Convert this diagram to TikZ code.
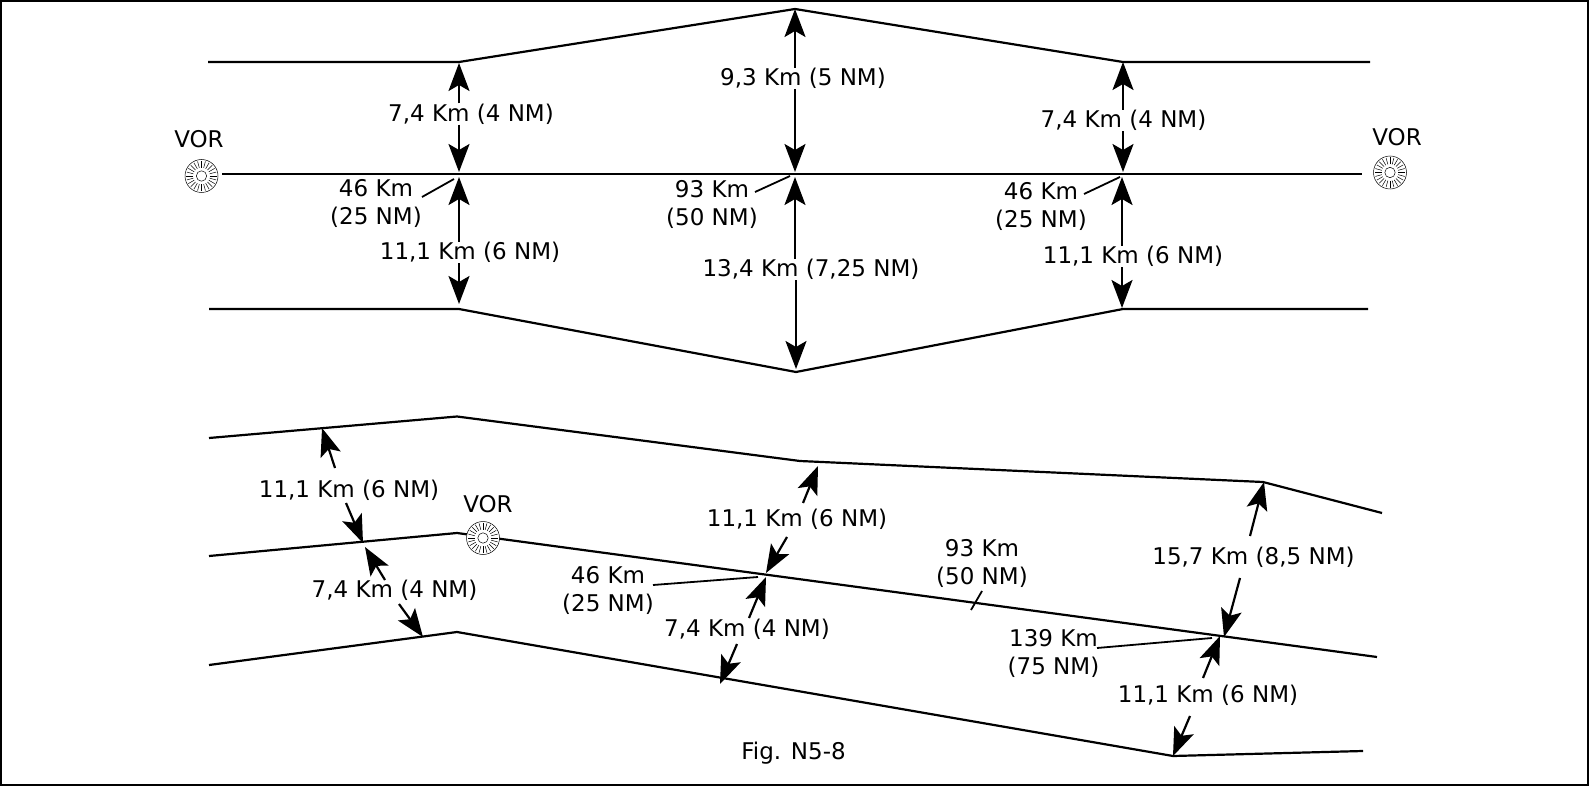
\documentclass[tikz,border=0pt]{standalone}
\usepackage{fontspec}
\setmainfont{DejaVu Sans}
\usetikzlibrary{arrows.meta}
\tikzset{
    routeline/.style = {line width = 1.1pt},
    dimarrow/.style = {line width = 1.1pt, -{Stealth[length = 14pt, width = 10.5pt, inset = 3pt]}},
    leaderline/.style = {line width = 0.9pt},
    dimlabel/.style = {font = \fontsize{11.5}{14}\selectfont, inner sep = 0pt, align = center, yshift = -1.2pt},
    vorbeacon/.style = {circle, draw, fill = white, line width = 0.25pt, minimum size = 16.5pt, inner sep = 0pt,
        path picture = {
            \draw [line width = 0.25pt] (path picture bounding box.center) circle (2.6pt);
            \foreach \a in {0, 15, ..., 345}
                \draw [line width = 0.25pt] ([shift = {(\a:4.2pt)}]path picture bounding box.center) -- ([shift = {(\a:7.6pt)}]path picture bounding box.center);
        }},
}

\begin{document}
\begin{tikzpicture}[x = 0.5pt, y = -0.5pt]
        \useasboundingbox (0, 0) rectangle (1589, 786);
        \node [draw, line width = 1pt, minimum width = 793.5pt, minimum height = 392pt, inner sep = 0pt] (frame) at (794.5, 393) {};

        % Upper corridor
        \coordinate (ua) at (208, 62);
        \coordinate (ub) at (459, 62);
        \coordinate (uc) at (795, 9);
        \coordinate (ud) at (1123, 62);
        \coordinate (ue) at (1370, 62);
        \coordinate (ma) at (222, 174);
        \coordinate (mb) at (1362, 174);
        \coordinate (la) at (209, 309);
        \coordinate (lb) at (459, 309);
        \coordinate (lc) at (796, 372);
        \coordinate (ld) at (1123, 309);
        \coordinate (le) at (1368, 309);
        \draw [routeline] (ua) -- (ub) -- (uc) -- (ud) -- (ue);
        \draw [routeline] (ma) -- (mb);
        \draw [routeline] (la) -- (lb) -- (lc) -- (ld) -- (le);

        % Lower corridor
        \coordinate (pa) at (209, 438);
        \coordinate (pb) at (457, 416.5);
        \coordinate (pc) at (800, 461);
        \coordinate (pd) at (1263, 482);
        \coordinate (pe) at (1382, 513);
        \coordinate (qa) at (209, 556);
        \coordinate (qb) at (457, 533);
        \coordinate (qc) at (1377, 657);
        \coordinate (ra) at (209, 665);
        \coordinate (rb) at (457, 632);
        \coordinate (rc) at (1173, 756);
        \coordinate (rd) at (1363, 751);
        \draw [routeline] (pa) -- (pb) -- (pc) -- (pd) -- (pe);
        \draw [routeline] (qa) -- (qb) -- (qc);
        \draw [routeline] (ra) -- (rb) -- (rc) -- (rd);

        % Nodes
        \node [vorbeacon] (vora) at (201.5, 176) {};
        \node [vorbeacon] (vorb) at (1390, 172.5) {};
        \node [vorbeacon] (vorc) at (483, 538) {};
        \node [dimlabel] (vorat) at (199, 137) {VOR};
        \node [dimlabel] (vorbt) at (1397, 135) {VOR};
        \node [dimlabel] (vorct) at (488, 502) {VOR};

        \node [dimlabel] (uaw) at (471, 111.5) {7,4 Km (4 NM)};
        \node [dimlabel] (ubw) at (803, 76) {9,3 Km (5 NM)};
        \node [dimlabel] (ucw) at (1123.5, 118) {7,4 Km (4 NM)};
        \node [dimlabel] (law) at (470, 250) {11,1 Km (6 NM)};
        \node [dimlabel] (lbw) at (811, 267) {13,4 Km (7,25 NM)};
        \node [dimlabel] (lcw) at (1133, 254) {11,1 Km (6 NM)};
        \node [dimlabel] (dista) at (376, 201) {46 Km\\(25 NM)};
        \node [dimlabel] (distb) at (712, 202.5) {93 Km\\(50 NM)};
        \node [dimlabel] (distc) at (1041, 204) {46 Km\\(25 NM)};

        \node [dimlabel] (paw) at (349, 487.5) {11,1 Km (6 NM)};
        \node [dimlabel] (qaw) at (394.5, 588) {7,4 Km (4 NM)};
        \node [dimlabel] (pbw) at (797, 517) {11,1 Km (6 NM)};
        \node [dimlabel] (qbw) at (747, 627) {7,4 Km (4 NM)};
        \node [dimlabel] (pcw) at (1253.5, 555) {15,7 Km (8,5 NM)};
        \node [dimlabel] (qcw) at (1208, 693) {11,1 Km (6 NM)};
        \node [dimlabel] (distd) at (608, 588.5) {46 Km\\(25 NM)};
        \node [dimlabel] (diste) at (982, 561.5) {93 Km\\(50 NM)};
        \node [dimlabel] (distf) at (1053.5, 651) {139 Km\\(75 NM)};
        \node [dimlabel] (figlabel) at (793.5, 751) {Fig. N5-8};

        % Draw the links, upper corridor
        \coordinate (ta) at (459, 63);
        \coordinate (tb) at (459, 172);
        \coordinate (tc) at (459, 177);
        \coordinate (td) at (459, 304);
        \coordinate (te) at (795, 9);
        \coordinate (tf) at (795, 172);
        \coordinate (tg) at (795, 177);
        \coordinate (th) at (796, 369);
        \coordinate (ti) at (1123, 62);
        \coordinate (tj) at (1123, 172);
        \coordinate (tk) at (1122, 177);
        \coordinate (tl) at (1122, 308);
        \draw [dimarrow] (ta |- uaw.north) -- (ta);
        \draw [dimarrow] (tb |- uaw.south) -- (tb);
        \draw [dimarrow] (tc |- law.north) -- (tc);
        \draw [dimarrow] (td |- law.south) -- (td);
        \draw [dimarrow] (te |- ubw.north) -- (te);
        \draw [dimarrow] (tf |- ubw.south) -- (tf);
        \draw [dimarrow] (tg |- lbw.north) -- (tg);
        \draw [dimarrow] (th |- lbw.south) -- (th);
        \draw [dimarrow] (ti |- ucw.north) -- (ti);
        \draw [dimarrow] (tj |- ucw.south) -- (tj);
        \draw [dimarrow] (tk |- lcw.north) -- (tk);
        \draw [dimarrow] (tl |- lcw.south) -- (tl);

        % Draw the links, lower corridor
        \draw [dimarrow] (335, 468) coordinate (sa) -- (322, 428) coordinate (sb);
        \draw [dimarrow] (346, 503) coordinate (sc) -- (363, 543) coordinate (sd);
        \draw [dimarrow] (385, 580) coordinate (se) -- (365, 547) coordinate (sf);
        \draw [dimarrow] (399, 604) coordinate (sg) -- (423, 637) coordinate (sh);
        \draw [dimarrow] (803, 503) coordinate (si) -- (818, 466) coordinate (sj);
        \draw [dimarrow] (787, 537) coordinate (sk) -- (766, 573) coordinate (sl);
        \draw [dimarrow] (749, 618) coordinate (sm) -- (766, 577) coordinate (sn);
        \draw [dimarrow] (737, 644) coordinate (so) -- (720, 684) coordinate (sp);
        \draw [dimarrow] (1250, 536) coordinate (sq) -- (1264, 482) coordinate (sr);
        \draw [dimarrow] (1240, 578) coordinate (ss) -- (1224, 637) coordinate (st);
        \draw [dimarrow] (1203, 678) coordinate (su) -- (1220, 636) coordinate (sv);
        \draw [dimarrow] (1190, 716) coordinate (sw) -- (1173, 756) coordinate (sx);

        % Leaders to the distance labels
        \coordinate (ka) at (422, 197);
        \coordinate (kb) at (454, 179);
        \coordinate (kc) at (755, 192);
        \coordinate (kd) at (790, 176);
        \coordinate (ke) at (1084, 194);
        \coordinate (kf) at (1120, 177);
        \coordinate (kg) at (653, 585);
        \coordinate (kh) at (758, 577);
        \coordinate (ki) at (982, 591);
        \coordinate (kj) at (971, 610);
        \coordinate (kk) at (1097, 648);
        \coordinate (kl) at (1212, 638);
        \draw [leaderline] (ka) -- (kb);
        \draw [leaderline] (kc) -- (kd);
        \draw [leaderline] (ke) -- (kf);
        \draw [leaderline] (kg) -- (kh);
        \draw [leaderline] (ki) -- (kj);
        \draw [leaderline] (kk) -- (kl);

    \end{tikzpicture}
\end{document}
